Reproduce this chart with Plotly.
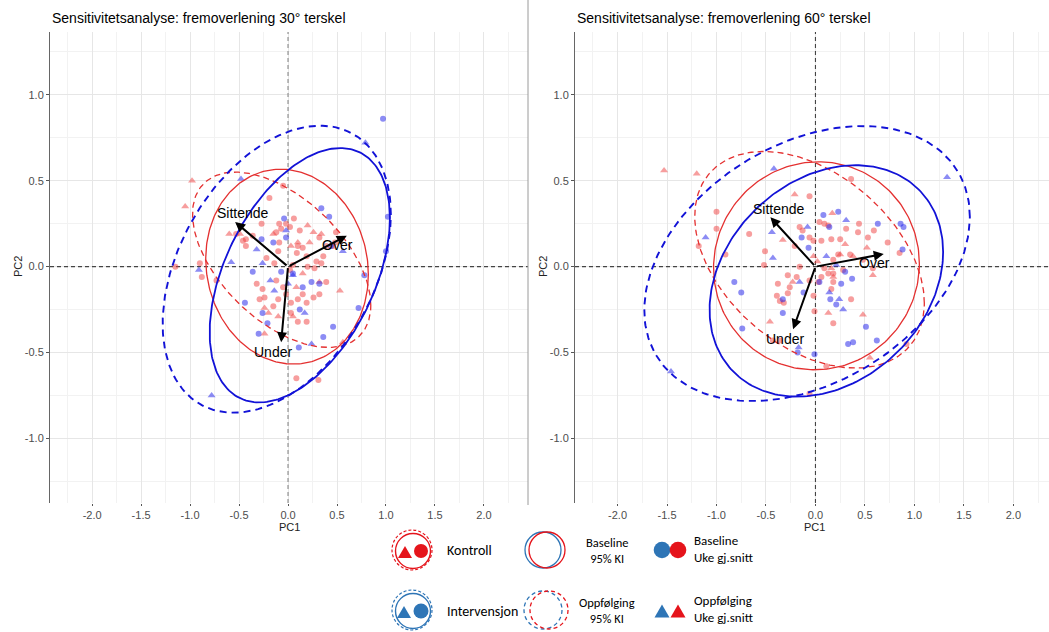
import numpy as np
import plotly.graph_objects as go

W, H = 1049, 632

# ---------------- DATA ----------------
titles = ["Sensitivitetsanalyse: fremoverlening 30\u00b0 terskel",
          "Sensitivitetsanalyse: fremoverlening 60\u00b0 terskel"]
x_ticks = [-2.0, -1.5, -1.0, -0.5, 0.0, 0.5, 1.0, 1.5, 2.0]
y_ticks = [-1.0, -0.5, 0.0, 0.5, 1.0]
loading_names = ["Sittende", "Over", "Under"]

# Panel 1 (30°)
p1_loading_x = [-0.54, 0.60, -0.07]
p1_loading_y = [0.26, 0.18, -0.44]

p1_kb_x = [-0.05, -0.19, 0.06, -0.09, -0.02, 0.02, -0.07, -0.12, 0.12, -0.27, -0.43, -0.46, -0.36, -0.53,
           0.32, 0.39, 0.46, 0.36, 0.29, 0.19, 0.09, 0.10, 0.15, -0.10, -0.22, -0.90, -1.15, -0.88, -0.73,
           -0.26, -0.32, -0.12, -0.05, 0.15, 0.26, 0.32, 0.39, -0.29, -0.24, -0.15, -0.10, 0.03, -0.02,
           0.10, 0.19, 0.03, 0.10, 0.19, 0.085, 0.31, 0.27, 0.34, 0.49, 0.02, 0.05, 0.48, 0.20, -0.14,
           -0.43, -0.09]
p1_kb_y = [0.47, 0.40, 0.28, 0.25, 0.25, 0.23, 0.22, 0.20, 0.21, 0.25, 0.16, 0.15, 0.18, 0.19,
           0.17, 0.12, 0.12, 0.06, 0.03, 0.06, 0.08, 0.12, 0.11, 0.09, 0.05, 0.02, 0.00, -0.06, -0.08,
           -0.13, -0.10, -0.08, -0.12, -0.16, -0.18, -0.16, -0.09, -0.19, -0.18, -0.23, -0.19, -0.21, -0.16,
           -0.19, -0.21, -0.27, -0.32, -0.32, -0.65, -0.66, -0.01, 0.02, 0.20, -0.02, 0.01, 0.14, 0.00, 0.02,
           0.12, 0.14]
p1_kf_x = [-0.98, -1.05, -0.60, -0.15, 0.20, 0.34, 0.10, 0.03, 0.26, 0.53, 0.32, 0.05, -0.24, 0.56,
           -0.10, -0.24, 0.085, -0.49, -0.20, 0.22, 0.15]
p1_kf_y = [0.50, 0.35, 0.19, 0.19, 0.24, 0.19, 0.14, 0.12, 0.20, -0.14, -0.09, -0.29, -0.39, -0.44,
           -0.29, -0.24, -0.12, 0.19, -0.27, 0.14, -0.04]
p1_ib_x = [0.97, 0.34, 0.42, -0.04, -0.27, -0.15, 0.44, -0.36, -0.07, 0.05, 0.15, 0.24, 0.32, -0.44,
           -0.26, -0.21, 0.12, 0.46, -0.30, 0.36, 0.11, 0.72, 0.78, 1.02, 1.00, -0.02]
p1_ib_y = [0.86, 0.34, 0.29, 0.28, 0.16, 0.14, 0.12, -0.03, -0.03, -0.04, -0.12, -0.09, -0.10, -0.21,
           -0.27, -0.33, -0.25, -0.35, -0.39, -0.41, -0.47, -0.24, -0.05, 0.29, 0.09, 0.17]
p1_if_x = [0.79, 0.56, -0.48, -0.02, -0.58, -0.91, -0.26, -0.14, 0.17, 0.24, -0.78, -0.32, -0.18, 0.05, 0.00]
p1_if_y = [0.72, 0.09, 0.51, 0.21, 0.025, -0.02, 0.02, -0.14, -0.27, -0.45, -0.75, 0.10, -0.08, -0.05, -0.10]

# ellipse parameters: centre x, centre y, half-width x, half-height y, correlation
p1_ell_kb = [-0.01, 0.00, 0.83, 0.567, -0.08]
p1_ell_kf = [-0.065, 0.04, 0.91, 0.51, -0.52]
p1_ell_ib = [0.12, -0.05, 0.92, 0.74, 0.45]
p1_ell_if = [-0.115, -0.015, 1.165, 0.835, 0.38]

# Panel 2 (60°)
p2_loading_x = [-0.455, 0.69, -0.226]
p2_loading_y = [0.287, 0.074, -0.364]

p2_kb_x = [-0.06, 0.36, -0.67, -1.00, -1.00, -1.18, -0.91, -0.52, 0.04, 0.09, 0.13, -0.16, -0.13, -0.06,
           -0.02, 0.06, 0.16, 0.25, 0.31, 0.44, 0.43, 0.53, 0.59, 0.73, 0.85, 0.23, 0.35, 0.58, 0.18, 0.28,
           0.09, 0.13, 0.06, 0.03, -0.28, -0.19, -0.38, -0.26, -0.28, -0.39, -0.36, -0.32, -0.06, -0.02,
           0.18, 0.16, 0.36, 0.18, -0.01, -0.43, -0.36, 0.11, -0.06, 0.92, -0.51, -0.21, 0.18, -0.16, 0.48]
p2_kb_y = [0.41, 0.51, 0.19, 0.32, 0.22, 0.12, 0.07, 0.01, 0.26, 0.25, 0.24, 0.23, 0.21, 0.17,
           0.15, 0.15, 0.16, 0.16, 0.22, 0.25, 0.20, 0.17, 0.21, 0.14, 0.08, 0.07, 0.07, -0.01, -0.04, -0.02,
           -0.01, -0.04, -0.06, -0.09, -0.05, -0.06, -0.10, -0.12, -0.155, -0.17, -0.20, -0.21, -0.08, -0.17,
           -0.09, -0.13, -0.19, -0.33, -0.26, -0.43, -0.43, -0.58, -0.74, -0.45, 0.09, 0.12, 0.04, 0.00, 0.04]
p2_kf_x = [-1.53, -1.20, -0.21, 0.17, -0.33, 0.52, 0.30, 0.25, 0.02, 0.16, 0.58, 0.18, 0.48, 0.13,
           -0.46, 0.55, -0.23, 0.38, -0.02]
p2_kf_y = [0.56, 0.54, 0.42, 0.31, 0.155, 0.11, 0.13, 0.07, 0.03, -0.01, -0.05, -0.06, -0.28, -0.27,
           -0.32, -0.53, -0.09, 0.06, 0.06]
p2_ib_x = [0.08, 0.23, 0.14, 0.63, 0.86, 0.89, 0.88, -0.14, -0.07, 0.30, 0.37, 0.26, 0.04, -0.12,
           -0.33, -0.33, 0.15, 0.21, -0.82, -0.75, -0.74, 0.51, 0.33, 0.38, 0.62, -0.18, -0.01]
p2_ib_y = [0.30, 0.32, 0.23, 0.25, 0.25, 0.23, 0.10, 0.17, 0.11, -0.03, -0.07, -0.10, -0.09, -0.15,
           -0.19, -0.27, -0.19, -0.22, -0.09, -0.15, -0.36, -0.35, -0.45, -0.44, -0.43, -0.50, -0.51]
p2_if_x = [-0.42, -0.08, -0.44, -1.11, -0.43, 0.31, 0.11, 1.33, 0.24, 0.28, -0.16, 0.14, -0.17, -1.46, 0.21]
p2_if_y = [0.57, 0.23, 0.20, 0.17, 0.05, 0.27, 0.06, 0.52, -0.19, -0.25, -0.09, -0.15, -0.47, -0.61, 0.01]

p2_ell_kb = [0.01, 0.005, 1.04, 0.605, 0.02]
p2_ell_kf = [-0.06, 0.04, 1.16, 0.63, -0.40]
p2_ell_ib = [0.11, -0.083, 1.18, 0.673, 0.25]
p2_ell_if = [-0.085, 0.018, 1.645, 0.80, 0.34]

# ---------------- STYLE ----------------
RED = "rgb(228,48,48)"
BLUE = "rgb(18,18,215)"
RED_PT = "rgba(240,62,62,0.5)"
BLUE_PT = "rgba(45,45,235,0.55)"
FONT = "Liberation Sans, Arial, sans-serif"
X_RANGES = [[-2.43, 2.45], [-2.43, 2.36]]
Y_RANGE = [-1.375, 1.365]
VLINE_COLORS = ["#8a8a8a", "#444444"]


def ellipse(p, n=240):
    cx, cy, sx, sy, rho = p
    t = np.linspace(0, 2 * np.pi, n)
    x = cx + sx * np.cos(t)
    y = cy + sy * (rho * np.cos(t) + np.sqrt(1 - rho ** 2) * np.sin(t))
    return x, y


fig = go.Figure()

panels = [
    dict(xa="x", ya="y", kb=(p1_kb_x, p1_kb_y), kf=(p1_kf_x, p1_kf_y), ib=(p1_ib_x, p1_ib_y),
         iff=(p1_if_x, p1_if_y), ell=[p1_ell_kb, p1_ell_kf, p1_ell_ib, p1_ell_if],
         lx=p1_loading_x, ly=p1_loading_y),
    dict(xa="x2", ya="y2", kb=(p2_kb_x, p2_kb_y), kf=(p2_kf_x, p2_kf_y), ib=(p2_ib_x, p2_ib_y),
         iff=(p2_if_x, p2_if_y), ell=[p2_ell_kb, p2_ell_kf, p2_ell_ib, p2_ell_if],
         lx=p2_loading_x, ly=p2_loading_y),
]

annotations = []
for pi, P in enumerate(panels):
    xa, ya = P["xa"], P["ya"]
    xr = X_RANGES[pi]
    fig.add_trace(go.Scatter(x=[0, 0], y=Y_RANGE, mode="lines", xaxis=xa, yaxis=ya, showlegend=False,
                             hoverinfo="skip", line=dict(color=VLINE_COLORS[pi], width=1.1, dash="4px,3px")))
    fig.add_trace(go.Scatter(x=xr, y=[0, 0], mode="lines", xaxis=xa, yaxis=ya, showlegend=False,
                             hoverinfo="skip", line=dict(color="#444444", width=1.1, dash="4px,3px")))
    for (xs, ys), col, sym, sz in [(P["kb"], RED_PT, "circle", 6), (P["kf"], RED_PT, "triangle-up", 7),
                                   (P["ib"], BLUE_PT, "circle", 6), (P["iff"], BLUE_PT, "triangle-up", 7)]:
        fig.add_trace(go.Scatter(x=xs, y=ys, mode="markers", xaxis=xa, yaxis=ya, showlegend=False,
                                 marker=dict(color=col, symbol=sym, size=sz, line=dict(width=0))))
    styles = [(RED, None, 1.3), (RED, "6px,4px", 1.3), (BLUE, None, 1.8), (BLUE, "7px,5px", 1.9)]
    for e, (col, dash, w) in zip(P["ell"], styles):
        ex, ey = ellipse(e)
        fig.add_trace(go.Scatter(x=ex, y=ey, mode="lines", xaxis=xa, yaxis=ya, showlegend=False,
                                 line=dict(color=col, width=w, dash=dash)))
    for name, lx, ly in zip(loading_names, P["lx"], P["ly"]):
        annotations.append(dict(x=lx, y=ly, ax=0, ay=0, xref=xa, yref=ya, axref=xa, ayref=ya,
                                text="", showarrow=True, arrowhead=2, arrowsize=1.0, arrowwidth=2,
                                arrowcolor="black"))
        if name == "Sittende":
            tx, ty = lx + 0.085, ly + 0.05
        elif name == "Over":
            tx, ty = lx - 0.09, ly - 0.055
        else:
            tx, ty = lx - 0.085, ly - 0.055
        annotations.append(dict(x=tx, y=ty, xref=xa, yref=ya, text=name, showarrow=False,
                                font=dict(family=FONT, size=14, color="black")))


def px(x):
    return x / W


def py(y):
    return 1 - y / H


shapes = [dict(type="line", xref="paper", yref="paper", x0=px(528), x1=px(528), y0=py(0), y1=py(505),
               line=dict(color="#9a9a9a", width=1))]

for i, (x0, xc) in enumerate([(50, 289), (575, 814)]):
    annotations.append(dict(x=px(x0), y=py(18), xref="paper", yref="paper", xanchor="left", yanchor="middle",
                            text=titles[i], showarrow=False, font=dict(family=FONT, size=14, color="black")))
    annotations.append(dict(x=px(xc), y=py(527), xref="paper", yref="paper", xanchor="center",
                            yanchor="middle", text="PC1", showarrow=False,
                            font=dict(family=FONT, size=11, color="#222222")))
    annotations.append(dict(x=px(x0 - 32), y=py(267), xref="paper", yref="paper", xanchor="center",
                            yanchor="middle", text="PC2", showarrow=False, textangle=-90,
                            font=dict(family=FONT, size=11, color="#222222")))

# ---------------- custom legend ----------------
LR = "#E5141B"
LB = "#2E75B6"
LFONT = "Carlito, Liberation Sans, Arial, sans-serif"


def circ(cx, cy, r, color, dash=None, width=1.3, fill=None):
    d = dict(type="circle", xref="paper", yref="paper", x0=px(cx - r), x1=px(cx + r),
             y0=py(cy + r), y1=py(cy - r), line=dict(color=color, width=width if fill is None else 0))
    if dash:
        d["line"]["dash"] = dash
    if fill:
        d["fillcolor"] = fill
    return d


def tri(cx, cy, s, color):
    h = s * 0.87
    path = "M {} {} L {} {} L {} {} Z".format(px(cx - s / 2), py(cy + h / 2), px(cx + s / 2), py(cy + h / 2),
                                              px(cx), py(cy - h / 2))
    return dict(type="path", xref="paper", yref="paper", path=path, fillcolor=color, line=dict(width=0))


row1, row2 = 550, 610
shapes += [circ(412, row1, 20, LR, dash="3px,2px", width=1.2), circ(413, row1 + 1, 17.5, LR, width=1.4),
           tri(405, row1 + 2, 14, LR), circ(421, row1 + 1, 7, LR, fill=LR)]
shapes += [circ(412, row2, 20, LB, dash="3px,2px", width=1.2), circ(413, row2 + 1, 17.5, LB, width=1.4),
           tri(404, row2 + 2, 14, LB), circ(421, row2 + 1, 7.5, LB, fill=LB)]
shapes += [circ(543, row1, 18, LB, width=1.3), circ(547, row1, 18, LR, width=1.3)]
shapes += [circ(543, row2, 19, LB, dash="4px,3px", width=1.3), circ(549, row2, 19, LR, dash="4px,3px", width=1.3)]
shapes += [circ(662, row1, 8.3, LB, fill=LB), circ(678, row1, 8.3, LR, fill=LR),
           tri(662, row2 + 1, 15, LB), tri(678, row2 + 1, 15, LR)]

leg_texts = [
    (445, row1, "Kontroll", "left", 14),
    (445, row2 + 1, "Intervensjon", "left", 14),
    (607, row1, "Baseline<br>95% KI", "center", 12.5),
    (607, row2, "Oppf\u00f8lging<br>95% KI", "center", 12.5),
    (692, row1 - 1, "Baseline<br>Uke gj.snitt", "left", 13),
    (692, row2 - 1, "Oppf\u00f8lging<br>Uke gj.snitt", "left", 13),
]
for x, y, t, al, fs in leg_texts:
    annotations.append(dict(x=px(x), y=py(y), xref="paper", yref="paper", xanchor=al, yanchor="middle",
                            align=al, text=t, showarrow=False, font=dict(family=LFONT, size=fs, color="black")))

# ---------------- axes ----------------
xcommon = dict(tickvals=x_ticks, ticktext=["{:.1f}".format(v) for v in x_ticks], showgrid=True,
               gridcolor="#e6e6e6", gridwidth=1, zeroline=False, ticks="outside", ticklen=2,
               tickcolor="#555555", tickfont=dict(family=FONT, size=11, color="#4d4d4d"),
               minor=dict(dtick=0.25, tick0=0, showgrid=True, gridcolor="#f2f2f2", ticks=""),
               showline=False)
ycommon = dict(tickvals=y_ticks, ticktext=["{:.1f}".format(v) for v in y_ticks], showgrid=True,
               gridcolor="#e6e6e6", gridwidth=1, zeroline=False, ticks="outside", ticklen=3,
               tickcolor="#555555", tickfont=dict(family=FONT, size=11, color="#4d4d4d"),
               minor=dict(dtick=0.25, tick0=0, showgrid=True, gridcolor="#f2f2f2", ticks=""),
               showline=True, linecolor="#666666", linewidth=1, range=Y_RANGE)

ydom = [py(503), py(32)]
fig.update_layout(
    width=W, height=H,
    margin=dict(l=0, r=0, t=0, b=0, pad=0),
    plot_bgcolor="white", paper_bgcolor="white",
    showlegend=False,
    xaxis=dict(domain=[px(50), px(528)], range=X_RANGES[0], anchor="y", **xcommon),
    yaxis=dict(domain=ydom, anchor="x", **ycommon),
    xaxis2=dict(domain=[px(575), 1.0], range=X_RANGES[1], anchor="y2", **xcommon),
    yaxis2=dict(domain=ydom, anchor="x2", **ycommon),
    annotations=annotations,
    shapes=shapes,
)

fig.write_html("out.html", config={"displayModeBar": False},
               post_script="document.body.style.margin='0';document.body.style.overflow='hidden';")
